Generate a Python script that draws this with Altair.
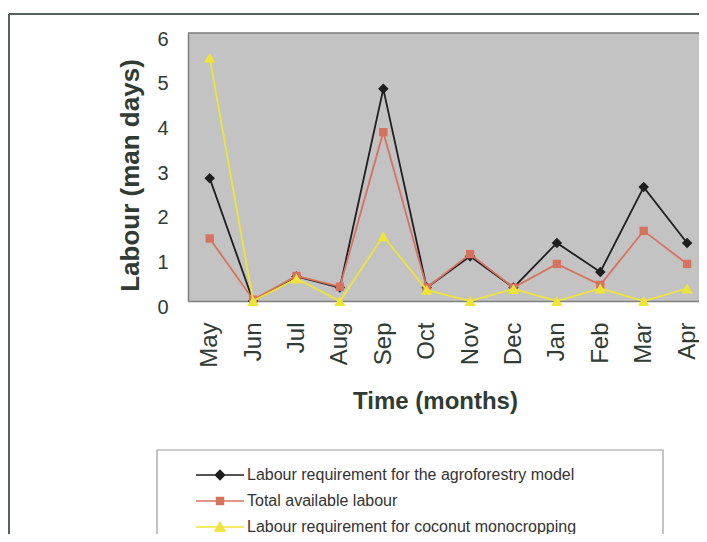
import altair as alt
import pandas as pd

months = ["May", "Jun", "Jul", "Aug", "Sep", "Oct", "Nov", "Dec", "Jan", "Feb", "Mar", "Apr"]
agro = [2.75, 0.0, 0.55, 0.3, 4.75, 0.3, 1.0, 0.3, 1.3, 0.65, 2.55, 1.3]
total = [1.4, 0.03, 0.56, 0.32, 3.78, 0.3, 1.05, 0.3, 0.83, 0.36, 1.57, 0.83]
coconut = [5.45, 0.0, 0.5, 0.0, 1.45, 0.25, 0.0, 0.27, 0.0, 0.28, 0.0, 0.28]

series_names = [
    "Labour requirement for the agroforestry model",
    "Total available labour",
    "Labour requirement for coconut monocropping",
]
series_colors = ["#1e1e1e", "#d6735f", "#efe43a"]
series_shapes = ["diamond", "square", "triangle-up"]
series_sizes = [110, 70, 130]
legend_paths = [
    "M-4,-0.13H4V0.13H-4ZM0,-0.95L0.95,0L0,0.95L-0.95,0Z",
    "M-4,-0.13H4V0.13H-4ZM-0.7,-0.7H0.7V0.7H-0.7Z",
    "M-4,-0.13H4V0.13H-4ZM0,-1L1.05,0.8H-1.05Z",
]

rows = []
for name, vals in zip(series_names, [agro, total, coconut]):
    for i, (m, v) in enumerate(zip(months, vals)):
        rows.append({"series": name, "month": m, "idx": i, "value": v})
df = pd.DataFrame(rows)

FONT = "Liberation Sans, Arial, sans-serif"
TEXT = "#2f3b33"

W, H = 511, 268
STEP = 43.4
XMAX = -0.5 + W / STEP
PAD_L, PAD_T = 180, 25
TOTAL_H = 526

month_array = "[" + ",".join(f"'{m}'" for m in months) + "]"

leg = alt.Legend(
    title=None,
    orient="none",
    legendX=-31,
    legendY=418,
    padding=16,
    symbolSize=144,
    symbolOffset=39,
    symbolOpacity=1,
    symbolStrokeWidth=0,
    labelOffset=19,
    rowPadding=10,
    labelFontSize=16,
    labelFont=FONT,
    labelColor="#333333",
    labelLimit=1000,
)

x_enc = alt.X(
    "idx:Q",
    scale=alt.Scale(domain=[-0.5, XMAX], nice=False, zero=False),
    axis=alt.Axis(
        title="Time (months)",
        values=list(range(len(months))),
        labelExpr=f"{month_array}[datum.value]",
        labelAngle=-90,
        labelFlush=False,
        labelOverlap=False,
        labelFontSize=24,
        labelPadding=21,
        titleFontSize=24,
        titleFontWeight="bold",
        titleX=247,
        titleY=100,
        titleAlign="center",
        titleBaseline="middle",
    ),
)
y_enc = alt.Y(
    "value:Q",
    scale=alt.Scale(domain=[0, 6], nice=False),
    axis=alt.Axis(
        title="Labour (man days)",
        values=[0, 1, 2, 3, 4, 5, 6],
        labelFontSize=20,
        labelPadding=20,
        labelOffset=6,
        titleFontSize=26,
        titleFontWeight="bold",
        titleX=-58,
        titleY=142,
        titleAlign="center",
        titleBaseline="middle",
    ),
)

base = alt.Chart(df).encode(x=x_enc, y=y_enc)

series_layers = []
for name, col, shp, sz in zip(series_names, series_colors, series_shapes, series_sizes):
    sub = base.transform_filter(alt.datum.series == name)
    series_layers.append(sub.mark_line(strokeWidth=1.8, color=col))
    series_layers.append(
        sub.mark_point(filled=True, opacity=1, shape=shp, size=sz, color=col)
    )

legend_layer = (
    base.transform_filter("false")
    .mark_point(filled=True, opacity=1)
    .encode(
        color=alt.Color(
            "series:N",
            scale=alt.Scale(domain=series_names, range=series_colors),
            legend=leg,
        ),
        shape=alt.Shape(
            "series:N",
            scale=alt.Scale(domain=series_names, range=legend_paths),
            legend=leg,
        ),
    )
)

top_border = alt.Chart(alt.Data(values=[{}])).mark_rule(
    color="#7a7a7a", strokeWidth=1.5
).encode(y=alt.datum(6))

deco = alt.Data(values=[{}])
frame_top = alt.Chart(deco).mark_rule(color="#56625b", strokeWidth=2).encode(
    x=alt.value(-179), x2=alt.value(W), y=alt.value(-19)
)
frame_left = alt.Chart(deco).mark_rule(color="#56625b", strokeWidth=2).encode(
    x=alt.value(-179), y=alt.value(-19), y2=alt.value(560)
)
legend_box = alt.Chart(deco).mark_rect(
    fill="#ffffff", stroke="#9c9c9c", strokeWidth=1.2
).encode(
    x=alt.value(-31), x2=alt.value(475), y=alt.value(417), y2=alt.value(600)
)

chart = (
    alt.layer(frame_top, frame_left, legend_box, top_border, *series_layers, legend_layer)
    .properties(
        width=W,
        height=H,
        autosize=alt.AutoSizeParams(type="none"),
        padding={"left": PAD_L, "top": PAD_T, "right": 0, "bottom": TOTAL_H - H - PAD_T},
    )
    .configure_view(fill="#c3c3c3", stroke=None)
    .configure_axis(
        labelFont=FONT,
        titleFont=FONT,
        labelColor=TEXT,
        titleColor=TEXT,
        grid=False,
        ticks=False,
        domain=True,
        domainColor="#7f7f7f",
        domainWidth=1.5,
    )
)

chart.save("out.html", embed_options={"renderer": "svg", "actions": False})
